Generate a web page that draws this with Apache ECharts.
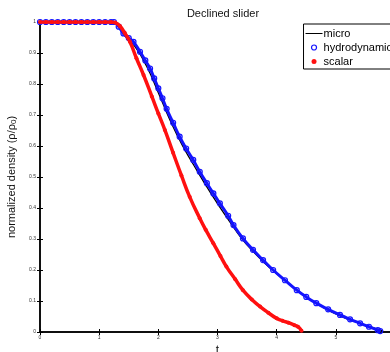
<!DOCTYPE html>
<html>
<head>
<meta charset="utf-8">
<script src="https://cdn.jsdelivr.net/npm/echarts@6/dist/echarts.min.js"></script>
<style>
  html, body { margin: 0; padding: 0; background: #fff; }
  #main { width: 390px; height: 352px; }
</style>
</head>
<body>
<div id="main"></div>
<script>
// values: [t, rho/rho0]
var microData = [
  [0, 1], [0.5, 1], [1.0, 1], [1.25, 1], [1.4, 0.963], [1.6, 0.922], [1.8, 0.858],
  [2.0, 0.772], [2.2, 0.682], [2.4, 0.604], [2.6, 0.538], [2.8, 0.474], [3.0, 0.414],
  [3.2, 0.358], [3.4, 0.304], [3.6, 0.26], [3.8, 0.222], [4.0, 0.188], [4.2, 0.157],
  [4.4, 0.127], [4.6, 0.1], [4.8, 0.078], [5.0, 0.058], [5.2, 0.042], [5.4, 0.029],
  [5.6, 0.016], [5.8, 0.003]
];
var hydroData = [
  [0, 1], [0.1, 1], [0.2, 1], [0.3, 1], [0.4, 1], [0.5, 1], [0.6, 1], [0.7, 1], [0.8, 1],
  [0.9, 1], [1.0, 1], [1.1, 1], [1.2, 1], [1.25, 1], [1.33, 0.985], [1.41, 0.963],
  [1.5, 0.948], [1.58, 0.936], [1.69, 0.904], [1.78, 0.876], [1.86, 0.85], [1.93, 0.818],
  [2.0, 0.786], [2.07, 0.754], [2.14, 0.72], [2.25, 0.675], [2.36, 0.63], [2.47, 0.592],
  [2.59, 0.555], [2.7, 0.517], [2.82, 0.48], [2.93, 0.447], [3.04, 0.415], [3.18, 0.375],
  [3.27, 0.345], [3.43, 0.302], [3.6, 0.265], [3.77, 0.232], [3.94, 0.2], [4.14, 0.167],
  [4.34, 0.135], [4.5, 0.113], [4.67, 0.093], [4.87, 0.073], [5.07, 0.055], [5.24, 0.041],
  [5.41, 0.028], [5.56, 0.017], [5.71, 0.006], [5.75, 0.003]
];
var scalarData = [
  [0, 1], [0.1, 1], [0.2, 1], [0.3, 1], [0.4, 1], [0.5, 1], [0.6, 1], [0.7, 1], [0.8, 1],
  [0.9, 1], [1.0, 1], [1.1, 1], [1.2, 1], [1.27, 0.998], [1.35, 0.987], [1.43, 0.965],
  [1.52, 0.936], [1.63, 0.883], [1.75, 0.829], [1.89, 0.76], [2.0, 0.705], [2.11, 0.652],
  [2.25, 0.578], [2.39, 0.505], [2.53, 0.436], [2.7, 0.367], [2.8, 0.33], [2.93, 0.286],
  [3.05, 0.245], [3.15, 0.211], [3.3, 0.17], [3.43, 0.135], [3.58, 0.105], [3.72, 0.082],
  [3.86, 0.062], [4.0, 0.044], [4.1, 0.036], [4.2, 0.03], [4.3, 0.022], [4.36, 0.017],
  [4.42, 0.004]
];
var seriesNames = ['micro', 'hydrodynamic', 'scalar'];

var myChart = echarts.init(document.getElementById('main'));

var tickFont = { fontSize: 5, color: '#333', fontFamily: 'Liberation Sans' };
var blue = '#1414ff', red = '#ff1010';

var option = {
  animation: false,
  title: {
    text: 'Declined slider',
    left: 218, top: 3, textAlign: 'center',
    textStyle: { fontSize: 11, fontWeight: 'normal', color: '#111', fontFamily: 'Liberation Sans' }
  },
  legend: {
    orient: 'vertical',
    right: -12, top: 24,
    backgroundColor: '#fff',
    borderColor: '#000', borderWidth: 1,
    padding: [4, 10, 2, 2],
    itemGap: 3,
    itemWidth: 17, itemHeight: 5,
    textStyle: { fontSize: 11, color: '#000', fontFamily: 'Liberation Sans', padding: [0, 0, 0, -4] },
    data: [
      { name: seriesNames[0], icon: 'path://M0,2 L17,2 L17,3 L0,3 Z', itemStyle: { color: '#000' } },
      { name: seriesNames[1], icon: 'circle', itemStyle: { color: '#fff', borderColor: blue, borderWidth: 1.2 } },
      { name: seriesNames[2], icon: 'circle', itemStyle: { color: red } }
    ]
  },
  grid: { left: 40, top: 22, width: 355, height: 310, outerBoundsMode: 'none', containLabel: false },
  xAxis: [{
    type: 'value', min: 0, max: 6, interval: 1,
    name: 't', nameLocation: 'middle', nameGap: 9,
    nameTextStyle: { fontSize: 12, color: '#111', fontFamily: 'Liberation Sans' },
    axisLine: { lineStyle: { color: '#000', width: 1.5 } },
    axisTick: { inside: true, length: 3, lineStyle: { color: '#000' } },
    axisLabel: Object.assign({ margin: 3 }, tickFont),
    splitLine: { show: false }
  }, {
    type: 'value', min: 0, max: 6, interval: 1, position: 'top',
    axisLine: { lineStyle: { color: '#000', width: 1.5 } },
    axisTick: { inside: true, length: 3, lineStyle: { color: '#000' } },
    axisLabel: { show: false },
    splitLine: { show: false }
  }],
  yAxis: [{
    type: 'value', min: 0, max: 1, interval: 0.1,
    name: 'normalized density (ρ/ρ{s|0})', nameLocation: 'middle', nameGap: 15,
    nameTextStyle: {
      fontSize: 11, color: '#111', fontFamily: 'Liberation Sans',
      rich: { s: { fontSize: 8, verticalAlign: 'bottom', padding: [5, 0, 0, 0], color: '#111' } }
    },
    axisLine: { lineStyle: { color: '#000', width: 1.5 } },
    axisTick: { inside: true, length: 3, lineStyle: { color: '#000' } },
    axisLabel: Object.assign({ margin: 4, formatter: function (v) { return String(+v.toFixed(1)); } }, tickFont),
    splitLine: { show: false }
  }, {
    type: 'value', min: 0, max: 1, interval: 0.1, position: 'right',
    axisLine: { lineStyle: { color: '#000', width: 1.5 } },
    axisTick: { inside: true, length: 3 },
    axisLabel: { show: false },
    splitLine: { show: false }
  }],
  series: [
    {
      name: seriesNames[0], type: 'line', data: microData, smooth: true, z: 2,
      symbol: 'none', color: '#000',
      lineStyle: { color: '#000', width: 1.3 }
    },
    {
      name: seriesNames[1], type: 'line', data: hydroData, smooth: true, z: 3,
      symbol: 'circle', symbolSize: 5, showSymbol: true, showAllSymbol: true,
      itemStyle: { color: 'rgba(255,255,255,0)', borderColor: blue, borderWidth: 1.2 },
      lineStyle: { color: blue, width: 3 }
    },
    {
      name: seriesNames[2], type: 'line', data: scalarData, smooth: true, z: 4,
      symbol: 'circle', symbolSize: 4, showSymbol: true, showAllSymbol: true,
      itemStyle: { color: red },
      lineStyle: { color: red, width: 3.5 }
    }
  ]
};

myChart.setOption(option);
</script>
</body>
</html>
